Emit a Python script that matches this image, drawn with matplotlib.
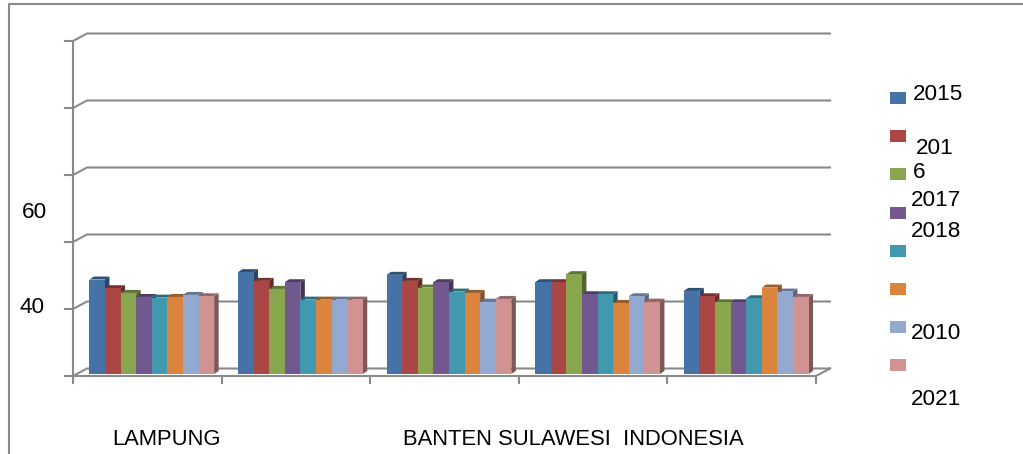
"""
Clustered 3D-style bar chart (Excel look): 5 regions x 8 years.
"""

import matplotlib
matplotlib.use("Agg")
import matplotlib.pyplot as plt
from matplotlib.patches import Polygon, Rectangle
from matplotlib.lines import Line2D
import numpy as np

W, H = 1023, 454

# ---------------------------------------------------------------------------
# Data
# ---------------------------------------------------------------------------
regions = ["LAMPUNG", "", "BANTEN", "SULAWESI", "INDONESIA"]
legend_texts = ["2015", "201", "6", "2017", "2018", "2010", "2021"]

s2015 = [44.1, 45.2, 44.8, 43.7, 42.4]
s2016 = [42.8, 43.9, 43.9, 43.7, 41.6]
s2017 = [42.1, 42.7, 42.9, 44.9, 40.7]
s2018 = [41.5, 43.7, 43.7, 41.9, 40.7]
s2019 = [41.4, 41.1, 42.3, 41.9, 41.3]
s2020 = [41.5, 41.1, 42.1, 40.6, 42.9]
s2021 = [41.8, 41.1, 40.8, 41.6, 42.3]
s2022 = [41.6, 41.1, 41.2, 40.8, 41.5]
series = [s2015, s2016, s2017, s2018, s2019, s2020, s2021, s2022]

colors = ["#4572A7", "#AA4643", "#89A54E", "#71588F",
          "#4198AF", "#DB843D", "#93A9CF", "#D19392"]

y_ticks = [30, 40, 50, 60, 70, 80]
GRID = "#8a8a8a"
FONT = "Liberation Sans"


def shade(c, f):
    r, g, b = matplotlib.colors.to_rgb(c)
    return (r * f, g * f, b * f)


def fpos(x, y):
    return x / W, 1 - y / H


fig = plt.figure(figsize=(W / 100, H / 100), dpi=100)

# plot area: front-left corner of floor at px (73, 376), top front tick at 41
ax = fig.add_axes([73 / W, (H - 376) / H, 743 / W, 335 / H])
ax.set_xlim(0, len(regions))
ax.set_ylim(y_ticks[0], y_ticks[-1])
ax.axis("off")

px_x = 743 / len(regions)               # pixels per category
px_y = 335 / (y_ticks[-1] - y_ticks[0])  # pixels per value unit

# depth of the chart box and of the bars (pixels -> data)
DX, DY = 14 / px_x, 7.5 / px_y
bdx, bdy = 4.5 / px_x, 3 / px_y
lift = 2 / px_y
bw = 15.6 / px_x
off = 0.11
n = len(regions)

# ── walls / gridlines ───────────────────────────────────────────────────────
for t in y_ticks:
    ax.add_line(Line2D([-8 / px_x, 0, DX, n + DX], [t, t, t + DY, t + DY],
                       color=GRID, lw=1.5, clip_on=False, zorder=1))
# floor front edge and right side
ax.add_line(Line2D([0, n, n + DX], [y_ticks[0]] * 2 + [y_ticks[0] + DY],
                   color=GRID, lw=1.5, clip_on=False, zorder=1))
# vertical axis
ax.add_line(Line2D([0, 0], [y_ticks[0], y_ticks[-1]],
                   color=GRID, lw=1.5, clip_on=False, zorder=1))
# category ticks
for k in range(n + 1):
    ax.add_line(Line2D([k, k], [y_ticks[0], y_ticks[0] - 7 / px_y],
                       color=GRID, lw=1.5, clip_on=False, zorder=1))

# ── bars ────────────────────────────────────────────────────────────────────
base = y_ticks[0] + lift
z = 2
for k in range(n):
    for i, (vals, c) in enumerate(zip(series, colors)):
        x0 = k + off + i * bw
        top = vals[k]
        ax.bar(x0, top - y_ticks[0], width=bw, bottom=base, align="edge",
               color=c, lw=0, zorder=z + 1)
        side = Polygon([(x0 + bw, base), (x0 + bw + bdx, base + bdy),
                        (x0 + bw + bdx, top + lift + bdy), (x0 + bw, top + lift)],
                       closed=True, fc=shade(c, 0.6), lw=0, zorder=z)
        cap = Polygon([(x0, top + lift), (x0 + bdx, top + lift + bdy),
                       (x0 + bw + bdx, top + lift + bdy), (x0 + bw, top + lift)],
                      closed=True, fc=shade(c, 0.7), lw=0, zorder=z)
        ax.add_patch(side)
        ax.add_patch(cap)
        z += 2

# ── outer chart border ──────────────────────────────────────────────────────
fig.add_artist(Line2D([9 / W, 9 / W, 1], [0, 1 - 4 / H, 1 - 4 / H],
                      color=GRID, lw=1.5))

# ── axis texts (as placed in the original) ─────────────────────────────────
fs = 16.2
fs_cat = 15.8
fig.text(*fpos(22, 218), "60", fontsize=fs, family=FONT, va="baseline")
fig.text(*fpos(19, 313), "40", fontsize=fs, family=FONT, va="baseline")
fig.text(*fpos(112, 445), regions[0], fontsize=fs_cat, family=FONT, va="baseline")
fig.text(*fpos(403, 445), "  ".join([" ".join(regions[2:4]), regions[4]]),
         fontsize=fs_cat, family=FONT, va="baseline")

# ── legend ──────────────────────────────────────────────────────────────────
for i, c in enumerate(colors):
    fx, fy = fpos(890, 92 + i * 38.2 + 12)
    fig.add_artist(Rectangle((fx, fy), 16 / W, 12 / H, fc=c, lw=0,
                             transform=fig.transFigure))

legend_pos = [(913, 100), (916, 154), (913, 178), (911, 206),
              (911, 237), (911, 339), (911, 405)]
for txt, (x, y) in zip(legend_texts, legend_pos):
    fig.text(*fpos(x, y), txt, fontsize=fs, family=FONT, va="baseline")

fig.savefig("out.png", dpi=100)
